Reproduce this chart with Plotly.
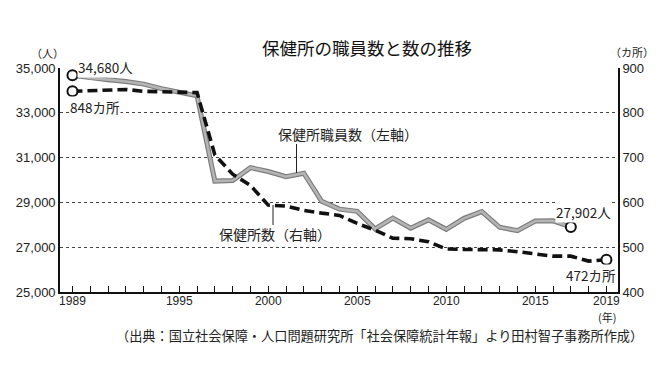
import plotly.graph_objects as go

# ---- data ----
staff_years = list(range(1989, 2018))
staff = [34680, 34560, 34480, 34400, 34280, 34080, 33920, 33760, 29950, 29980,
         30550, 30380, 30150, 30300, 29050, 28700, 28600, 27820, 28300, 27850,
         28220, 27800, 28290, 28590, 27890, 27740, 28170, 28180, 27902]

fac_years = list(range(1989, 2020))
facilities = [848, 850, 852, 852, 848, 847, 845, 845, 706, 663, 638, 594, 592,
              582, 576, 571, 553, 538, 520, 519, 512, 496, 495, 495, 494, 490,
              485, 480, 480, 469, 472]

left_ticks = [25000, 27000, 29000, 31000, 33000, 35000]
left_labels = ["25,000", "27,000", "29,000", "31,000", "33,000", "35,000"]
right_ticks = [400, 500, 600, 700, 800, 900]
right_labels = ["400", "500", "600", "700", "800", "900"]
x_label_years = [1989, 1995, 2000, 2005, 2010, 2015, 2019]

title = "保健所の職員数と数の推移"
staff_name = "保健所職員数（左軸）"
fac_name = "保健所数（右軸）"
source = "（出典：国立社会保障・人口問題研究所「社会保障統計年報」より田村智子事務所作成）"

NUM_FONT = "Liberation Sans, Arial, Noto Sans CJK JP"
JP_FONT = "Noto Sans CJK JP, Liberation Sans"

# ---- figure ----
L, R, T, B = 60, 52, 68, 77
W, H = 670, 369
PW, PH = W - L - R, H - T - B


def px(x):
    return (x - L) / PW


def py(y):
    return (H - B - y) / PH


fig = go.Figure()

# staff line (gray, two-layer for textured look)
fig.add_trace(go.Scatter(x=staff_years, y=staff, mode="lines",
                         line=dict(color="#7d7d7d", width=5), yaxis="y",
                         hoverinfo="skip", showlegend=False))
fig.add_trace(go.Scatter(x=staff_years, y=staff, mode="lines",
                         line=dict(color="#b4b4b4", width=2.6), yaxis="y",
                         name=staff_name, showlegend=False))
# facilities dashed line
fig.add_trace(go.Scatter(x=fac_years, y=facilities, mode="lines",
                         line=dict(color="#111111", width=3.6, dash="10px,5px"),
                         yaxis="y2", name=fac_name, showlegend=False))
# end markers
fig.add_trace(go.Scatter(x=[staff_years[0], staff_years[-1]], y=[staff[0], staff[-1]],
                         mode="markers", yaxis="y",
                         marker=dict(symbol="circle", size=10, color="white",
                                     line=dict(color="#111", width=2)),
                         showlegend=False, hoverinfo="skip"))
fig.add_trace(go.Scatter(x=[fac_years[0], fac_years[-1]], y=[facilities[0], facilities[-1]],
                         mode="markers", yaxis="y2",
                         marker=dict(symbol="circle", size=10, color="white",
                                     line=dict(color="#111", width=2)),
                         showlegend=False, hoverinfo="skip"))

tick_text = [str(y) if y in x_label_years else "" for y in fac_years]

fig.update_layout(
    width=W, height=H,
    margin=dict(l=L, r=R, t=T, b=B, autoexpand=False),
    paper_bgcolor="white", plot_bgcolor="white",
    font=dict(family=NUM_FONT, size=13, color="#222"),
    xaxis=dict(range=[1988.3, 2019.65], tickmode="array", tickvals=fac_years,
               ticktext=tick_text, ticks="inside", ticklen=6, tickwidth=1.2,
               tickcolor="#111", showline=True, linecolor="#111", linewidth=1.6,
               showgrid=False, zeroline=False, ticklabelstandoff=-3,
               tickfont=dict(family=NUM_FONT, size=12, color="#222")),
    yaxis=dict(range=[25000, 35000], tickmode="array", tickvals=left_ticks,
               ticktext=left_labels, showgrid=True, gridcolor="#444",
               griddash="dot", gridwidth=1, showline=True, linecolor="#111",
               linewidth=1.6, zeroline=False, ticks="",
               tickfont=dict(family=NUM_FONT, size=13, color="#222")),
    yaxis2=dict(range=[400, 900], overlaying="y", side="right", tickmode="array",
                tickvals=right_ticks, ticktext=right_labels, showgrid=False,
                showline=True, linecolor="#111", linewidth=1.6, zeroline=False,
                ticks="", tickfont=dict(family=NUM_FONT, size=13, color="#222")),
)

ann = []


def add_text(text, x, y, size, xanchor="center", yanchor="middle", family=JP_FONT,
             bg=None, color="#222"):
    d = dict(text=text, x=px(x), y=py(y), xref="paper", yref="paper",
             showarrow=False, xanchor=xanchor, yanchor=yanchor,
             font=dict(family=family, size=size, color=color))
    if bg:
        d["bgcolor"] = bg
        d["borderpad"] = 0
    ann.append(d)


add_text(title, 367, 47, 17.5, color="#111")
add_text("（人）", 47, 53, 11)
add_text("（カ所）", 632, 52, 11)
add_text(f"{staff[0]:,}人", 77, 67, 13.5, xanchor="left", bg="white")
add_text(f"{facilities[0]}カ所", 69, 107, 13.5, xanchor="left", bg="white")
add_text(staff_name, 276, 134, 14, xanchor="left")
add_text(fac_name, 217, 234, 14, xanchor="left")
add_text(f"{staff[-1]:,}人", 583, 212, 13.5, bg="white")
add_text(f"{facilities[-1]}カ所", 591, 275, 13.5, bg="white")
add_text("(年)", 607, 317, 11)
add_text(source, 379, 335, 13.2)
fig.update_layout(annotations=ann)

# leader lines
fig.add_shape(type="line", xref="paper", yref="paper",
              x0=px(296.5), x1=px(296.5), y0=py(144), y1=py(173),
              line=dict(color="#222", width=1))
fig.add_shape(type="line", xref="paper", yref="paper",
              x0=px(273), x1=px(273), y0=py(205), y1=py(225),
              line=dict(color="#222", width=1))

fig.write_html("out.html", config={"displayModeBar": False},
               post_script="document.body.style.margin='0';document.body.style.overflow='hidden';")
